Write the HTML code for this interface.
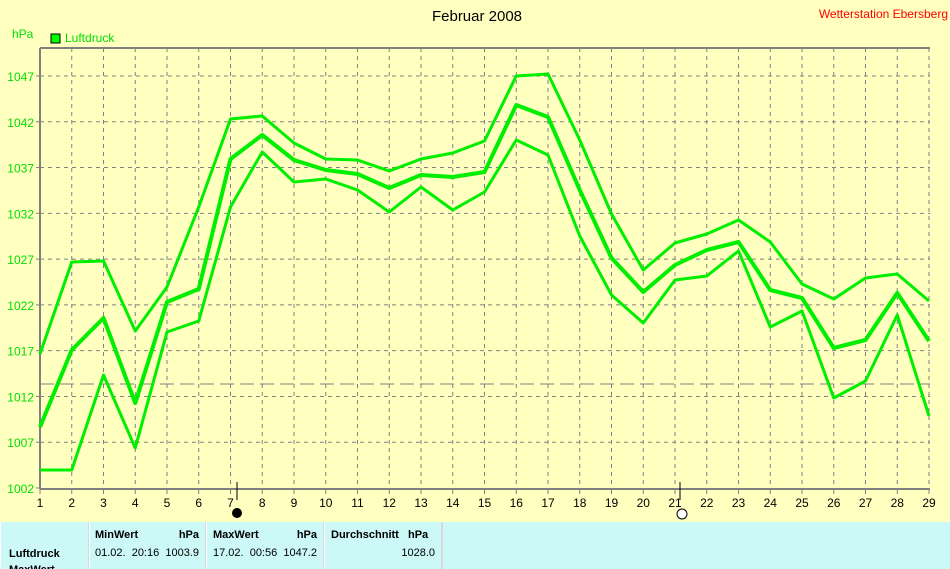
<!DOCTYPE html>
<html><head><style>
body{margin:0;width:950px;height:569px;overflow:hidden;background:#ffffc0;font-family:"Liberation Sans",sans-serif;position:relative}
svg{position:absolute;left:0;top:0}
.tb{position:absolute;left:0;top:522px;width:950px;height:47px;background:#ccf8f8;font-size:11px;white-space:nowrap;overflow:hidden}
.c{position:absolute;top:0;height:47px;border-right:2px solid #d8d8d8;border-left:1px solid #fff}
.c span,.c b{white-space:nowrap}
</style></head><body>
<svg width="950" height="522" xmlns="http://www.w3.org/2000/svg" font-family="Liberation Sans, sans-serif">
<rect width="950" height="522" fill="#ffffc0"/>
<text x="477" y="21" font-size="15" text-anchor="middle">Februar 2008</text>
<text x="948" y="18" font-size="12" fill="#ff0000" text-anchor="end">Wetterstation Ebersberg</text>
<text x="12" y="38" font-size="12" fill="#00dd00">hPa</text>
<rect x="51" y="34" width="9" height="9" fill="#00ff00" stroke="#000"/>
<text x="65" y="42" font-size="12" fill="#00dd00">Luftdruck</text>
<g id="grid" stroke="#808080" stroke-dasharray="4,4" stroke-width="1"></g>
<g id="lab" font-size="12"></g>
<line x1="40" y1="48" x2="930" y2="48" stroke="#808080" stroke-width="2"/>
<line x1="40" y1="48" x2="40" y2="489" stroke="#808080" stroke-width="2"/>
<line x1="40" y1="489" x2="930" y2="489" stroke="#808080" stroke-width="2"/>
<line x1="40" y1="384" x2="930" y2="384" stroke="#808080" stroke-dasharray="14,6"/>
<g id="d" fill="none" stroke="#00ee00" stroke-linejoin="round"></g>
<line x1="237" y1="482" x2="237" y2="500" stroke="#000"/>
<circle cx="237" cy="513" r="5" fill="#000"/>
<line x1="680" y1="482" x2="680" y2="500" stroke="#000"/>
<circle cx="682" cy="514" r="5" fill="#fff" stroke="#000"/>
</svg>
<div class="tb">
<div class="c" style="left:0;width:87px"><b style="position:absolute;left:8px;top:26px">Luftdruck</b><b style="position:absolute;left:8px;top:42px">MaxWert</b></div>
<div class="c" style="left:89px;width:115px"><b style="position:absolute;left:5px;top:7px">MinWert</b><b style="position:absolute;right:6px;top:7px">hPa</b><span style="position:absolute;left:5px;top:25px">01.02.&nbsp; 20:16&nbsp; 1003.9</span></div>
<div class="c" style="left:206px;width:116px"><b style="position:absolute;left:6px;top:7px">MaxWert</b><b style="position:absolute;right:6px;top:7px">hPa</b><span style="position:absolute;left:6px;top:25px">17.02.&nbsp; 00:56&nbsp; 1047.2</span></div>
<div class="c" style="left:324px;width:116px"><b style="position:absolute;left:6px;top:7px">Durchschnitt&nbsp;&nbsp; hPa</b><span style="position:absolute;right:6px;top:25px">1028.0</span></div>
</div>
<script>
var ns="http://www.w3.org/2000/svg",g=document.getElementById("grid"),l=document.getElementById("lab"),d=document.getElementById("d");
function X(i){return 40+(i-1)*31.75}
function el(p,t,a,txt){var e=document.createElementNS(ns,t);for(var k in a)e.setAttribute(k,a[k]);if(txt)e.textContent=txt;p.appendChild(e);}
for(var i=1;i<=29;i++){var x=X(i);if(i>1)el(g,"line",{x1:x,y1:48,x2:x,y2:489});el(l,"line",{x1:x,y1:489,x2:x,y2:494,stroke:"#808080"});el(l,"text",{x:x,y:507,"text-anchor":"middle"},""+i);}
for(var j=0;j<10;j++){var y=488-j*45.78;if(j>0)el(g,"line",{x1:40,y1:y,x2:930,y2:y});el(l,"line",{x1:36,y1:y,x2:40,y2:y,stroke:"#808080"});el(l,"text",{x:34,y:y+5,"text-anchor":"end",fill:"#00dd00"},""+(1002+5*j));}
var s=[[354,262,261,331,287,207,119,116,143,159,160,171,159,153,141,76,74,140,214,270,243,234,220,242,284,299,278,274,301],
[427,350,318,403,302,289,159,135,160,170,174,188,175,177,172,105,117,190,258,292,265,250,242,290,298,348,340,293,341],
[470,470,375,448,332,321,207,152,182,179,190,212,187,210,192,140,155,236,295,323,280,276,251,327,311,398,381,315,416]];
var w=[3,4,3];
s.forEach(function(a,k){el(d,"polyline",{points:a.map(function(v,i){return X(i+1)+","+v}).join(" "),"stroke-width":w[k]});});
</script>
</body></html>
